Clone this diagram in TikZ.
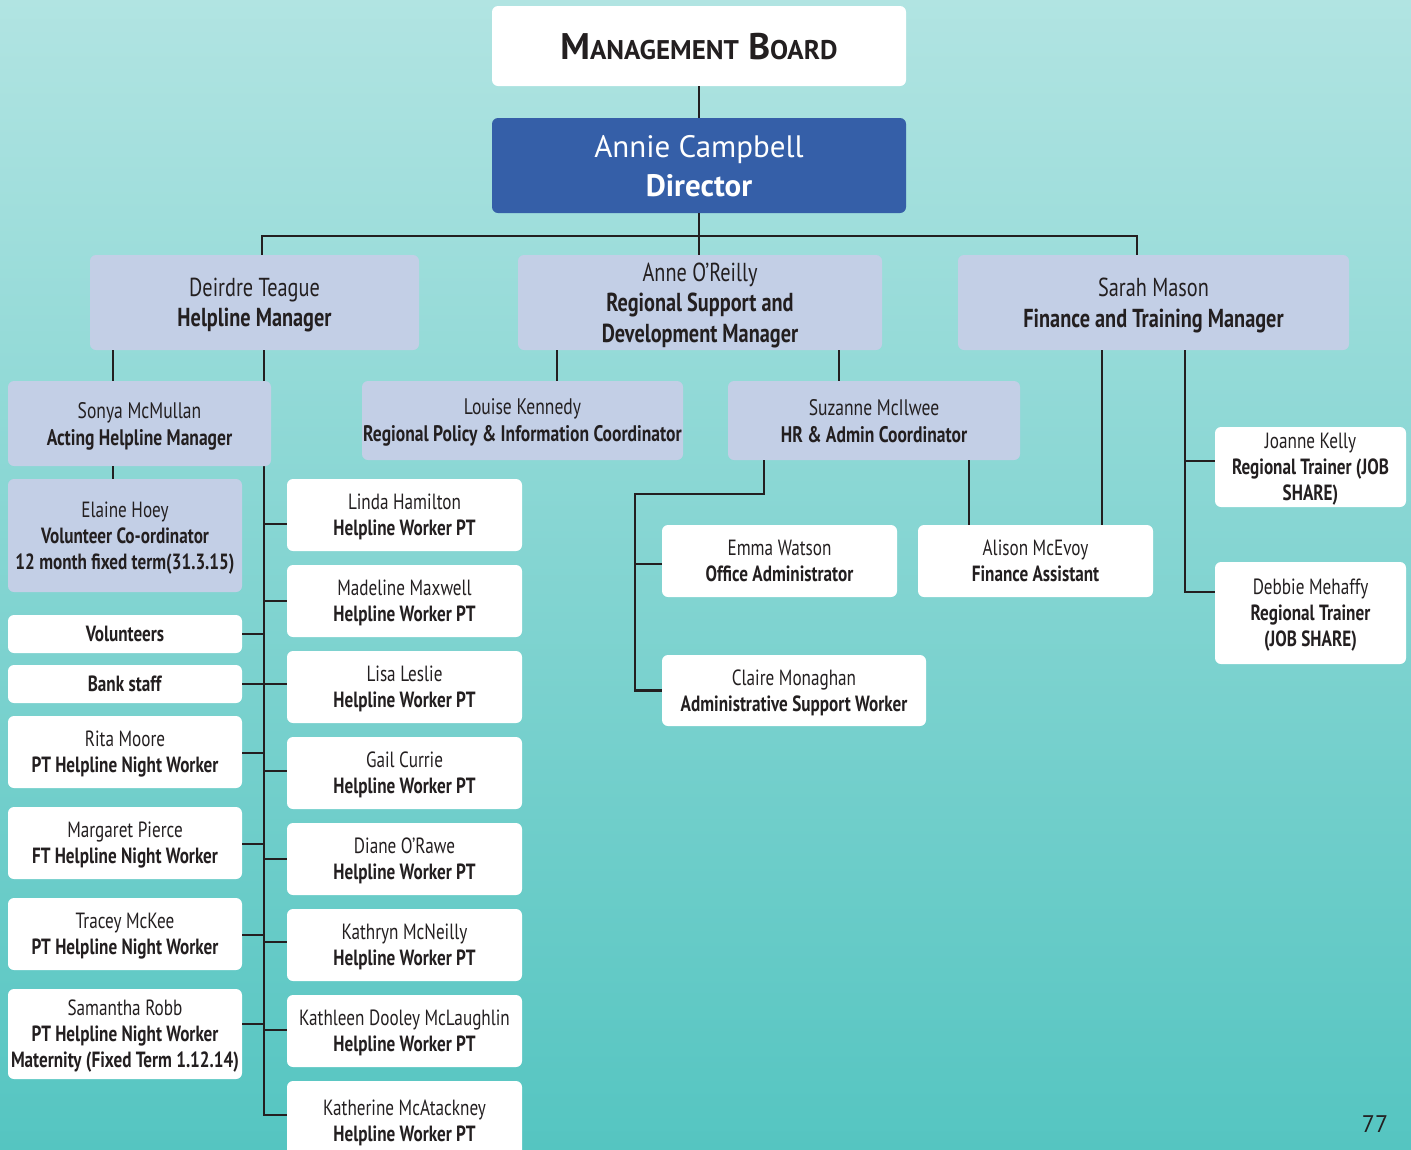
\documentclass[tikz,border=0pt]{standalone}
\usepackage{fontspec}
\setmainfont{PT Sans}[FakeStretch=0.78]
\newfontfamily\widefont{PT Sans}
\definecolor{bgtop}{HTML}{B1E4E2}
\definecolor{bgbot}{HTML}{55C5C1}
\definecolor{lav}{HTML}{C3CFE6}
\definecolor{dirblue}{HTML}{355FA8}
\definecolor{ink}{HTML}{231F20}
\newcommand\smf{\fontsize{22}{26}\selectfont}
\newcommand\mdf{\fontsize{22.5}{27}\selectfont}
\newcommand\mgf{\fontsize{26}{30.5}\selectfont}
\tikzset{
  box/.style={rounded corners=6pt, inner sep=0pt, align=center, text=ink, font=\smf, text depth=0pt},
  wbox/.style={box, fill=white},
  lbox/.style={box, fill=lav},
  ln/.style={line width=2.6pt, draw=ink}
}
\begin{document}
\begin{tikzpicture}[x=1pt,y=-1pt]
\useasboundingbox (0,0) rectangle (1411,1149);
\clip (0,0) rectangle (1411,1149);
\shade[top color=bgtop, bottom color=bgbot] (0,0) rectangle (1411,1149);

% named junction coordinates
\coordinate (bL) at (262,236);
\coordinate (bR) at (1137,236);
\coordinate (dA) at (113,0);
\coordinate (dB) at (264,0);
\coordinate (aL) at (557,0);
\coordinate (aR) at (839,0);
\coordinate (sA) at (764,494);
\coordinate (sB) at (635,494);
\coordinate (sC) at (969,0);
\coordinate (fA) at (1102,0);
\coordinate (fB) at (1185,0);

% top
\node[wbox, minimum width=414pt, minimum height=80pt] (mb) at (699,46)
  {\widefont\bfseries\fontsize{37}{37}\selectfont M{\fontsize{27}{27}\selectfont ANAGEMENT} B{\fontsize{27}{27}\selectfont OARD}};
\node[box, fill=dirblue, text=white, minimum width=414pt, minimum height=95pt, font=\widefont\fontsize{31}{39}\selectfont] (dir) at (699,165.5)
  {Annie Campbell\\\textbf{Director}};

% managers
\node[lbox, font=\mgf, minimum width=329pt, minimum height=95pt] (deirdre) at (254.5,302.5)
  {Deirdre Teague\\\textbf{Helpline Manager}};
\node[lbox, font=\mgf, minimum width=364pt, minimum height=95pt] (anne) at (700,302.5)
  {Anne O’Reilly\\\textbf{Regional Support and}\\\textbf{Development Manager}};
\node[lbox, font=\mgf, minimum width=391pt, minimum height=95pt] (sarah) at (1153.5,302.5)
  {Sarah Mason\\\textbf{Finance and Training Manager}};

% connectors top
\draw[ln] (mb) -- (dir);
\draw[ln] (dir.south) -- (dir.south |- anne.north);
\draw[ln] (bL |- deirdre.north) -- (bL) -- (bR) -- (bR |- sarah.north);

% Deirdre long bus (drawn before boxes so Sonya hides it)
\draw[ln] (dB |- deirdre.south) -- (dB |- 0,1116);

% second level
\node[lbox, font=\mdf, minimum width=263pt, minimum height=85pt] (sonya) at (139.5,423.5)
  {Sonya McMullan\\\textbf{Acting Helpline Manager}};
\node[lbox, minimum width=234pt, minimum height=113pt] (elaine) at (125,535.5)
  {Elaine Hoey\\\textbf{Volunteer Co-ordinator}\\\textbf{12 month fixed term(31.3.15)}};
\node[lbox, font=\mdf, minimum width=321pt, minimum height=79pt] (louise) at (522.5,420.5)
  {Louise Kennedy\\\textbf{Regional Policy \& Information Coordinator}};
\node[lbox, font=\mdf, minimum width=292pt, minimum height=79pt] (suzanne) at (874,420.5)
  {Suzanne McIlwee\\\textbf{HR \& Admin Coordinator}};

\draw[ln] (dA |- deirdre.south) -- (dA |- sonya.north);
\draw[ln] (dA |- sonya.south) -- (dA |- elaine.north);
\draw[ln] (aL |- anne.south) -- (aL |- louise.north);
\draw[ln] (aR |- anne.south) -- (aR |- suzanne.north);

% Suzanne / Sarah reports
\node[wbox, minimum width=235pt, minimum height=72pt] (emma) at (779.5,561)
  {Emma Watson\\\textbf{Office Administrator}};
\node[wbox, minimum width=235pt, minimum height=72pt] (alison) at (1035.5,561)
  {Alison McEvoy\\\textbf{Finance Assistant}};
\node[wbox, minimum width=264pt, minimum height=71pt] (claire) at (794,690.5)
  {Claire Monaghan\\\textbf{Administrative Support Worker}};
\node[wbox, minimum width=191pt, minimum height=80pt] (joanne) at (1310.5,467)
  {Joanne Kelly\\\textbf{Regional Trainer (JOB}\\\textbf{SHARE)}};
\node[wbox, minimum width=191pt, minimum height=102pt] (debbie) at (1310.5,613)
  {Debbie Mehaffy\\\textbf{Regional Trainer}\\\textbf{(JOB SHARE)}};

\draw[ln] (sA |- suzanne.south) -- (sA) -- (sB) |- (claire.west);
\draw[ln] ([yshift=-3pt]emma.west) -- ([yshift=-3pt]emma.west -| sB);
\draw[ln] (sC |- suzanne.south) -- (sC |- alison.north);
\draw[ln] (fA |- sarah.south) -- (fA |- alison.north);
\draw[ln] (fB |- sarah.south) |- ([yshift=21pt]debbie.west);
\draw[ln] ([yshift=6pt]joanne.west) -- ([yshift=6pt]joanne.west -| fB);

% left column
\node[wbox, minimum width=234pt, minimum height=38pt] (vol) at (125,634) {\textbf{Volunteers}};
\node[wbox, minimum width=234pt, minimum height=38pt] (bank) at (125,684) {\textbf{Bank staff}};
\node[wbox, minimum width=234pt, minimum height=72pt] (rita) at (125,752)
  {Rita Moore\\\textbf{PT Helpline Night Worker}};
\node[wbox, minimum width=234pt, minimum height=72pt] (margaret) at (125,843)
  {Margaret Pierce\\\textbf{FT Helpline Night Worker}};
\node[wbox, minimum width=234pt, minimum height=72pt] (tracey) at (125,934)
  {Tracey McKee\\\textbf{PT Helpline Night Worker}};
\node[wbox, minimum width=234pt, minimum height=90pt] (samantha) at (125,1034)
  {Samantha Robb\\\textbf{PT Helpline Night Worker}\\\textbf{Maternity (Fixed Term 1.12.14)}};

\foreach \n/\s in {vol/0, bank/0, rita/-1, margaret/-1, tracey/-1, samantha/10}
  \draw[ln] ([yshift=\s pt]\n.east) -- ([yshift=\s pt]\n.east -| dB);

% right column helpline workers
\node[wbox, minimum width=235pt, minimum height=72pt] (linda) at (404.5,515)
  {Linda Hamilton\\\textbf{Helpline Worker PT}};
\node[wbox, minimum width=235pt, minimum height=72pt] (madeline) at (404.5,601)
  {Madeline Maxwell\\\textbf{Helpline Worker PT}};
\node[wbox, minimum width=235pt, minimum height=72pt] (lisa) at (404.5,687)
  {Lisa Leslie\\\textbf{Helpline Worker PT}};
\node[wbox, minimum width=235pt, minimum height=72pt] (gail) at (404.5,773)
  {Gail Currie\\\textbf{Helpline Worker PT}};
\node[wbox, minimum width=235pt, minimum height=72pt] (diane) at (404.5,859)
  {Diane O’Rawe\\\textbf{Helpline Worker PT}};
\node[wbox, minimum width=235pt, minimum height=72pt] (kathryn) at (404.5,945)
  {Kathryn McNeilly\\\textbf{Helpline Worker PT}};
\node[wbox, minimum width=235pt, minimum height=72pt] (kathleen) at (404.5,1031)
  {Kathleen Dooley McLaughlin\\\textbf{Helpline Worker PT}};
\node[wbox, minimum width=235pt, minimum height=80pt] (katherine) at (404.5,1121)
  {Katherine McAtackney\\\textbf{Helpline Worker PT}};

\foreach \n/\s in {linda/-9, madeline/0, lisa/3, gail/2, diane/0, kathryn/3, kathleen/1, katherine/6}
  \draw[ln] ([yshift=\s pt]\n.west) -- ([yshift=\s pt]\n.west -| dB);

\node[text=ink, font=\widefont\fontsize{24}{24}\selectfont] (pg) at (1375,1124) {77};
\end{tikzpicture}
\end{document}
